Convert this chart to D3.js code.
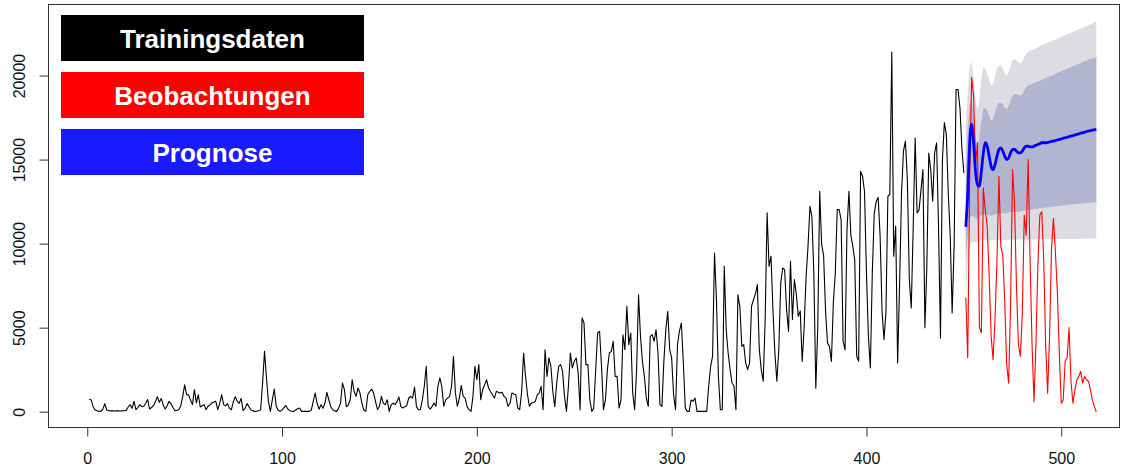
<!DOCTYPE html>
<html><head><meta charset="utf-8">
<script src="https://cdn.jsdelivr.net/npm/d3@7"></script>
<style>body{margin:0;background:#fff}svg{display:block;font-family:"Liberation Sans",Arial,sans-serif}</style>
</head><body><svg id="c" width="1121" height="467"></svg>
<script>
const trainStart = 1;
const fcStart = 451;
const training = [
750,700,300,100,50,30,20,150,480,100,
60,50,60,40,50,60,40,50,60,80,
280,420,200,620,120,250,420,300,320,500,
720,160,250,360,600,890,560,790,400,160,
350,620,480,250,60,80,120,360,900,1600,
1010,1000,700,420,1310,520,1010,280,350,420,
120,320,400,520,580,620,120,500,1010,420,
350,480,200,120,600,890,620,500,790,80,
200,480,300,120,50,20,30,60,120,1700,
3590,2000,600,20,700,1350,320,80,20,100,
250,360,150,60,30,20,100,180,220,20,
20,30,20,20,100,620,1110,500,150,420,
200,500,1150,710,300,120,50,20,200,500,
1710,1310,300,400,710,1900,1200,910,1410,1110,
500,100,20,1010,1200,1350,1100,600,120,320,
910,500,420,710,20,400,510,420,600,870,
300,220,300,360,800,910,810,1470,300,120,
120,700,1500,2700,320,150,300,510,320,1500,
2010,1510,320,700,810,910,1500,3290,1110,320,
800,1550,910,810,300,120,20,900,2700,1900,
2800,710,1310,1610,1900,1410,1200,1010,810,1210,
1150,1110,1150,900,810,320,500,1110,1050,1010,
220,120,1200,3490,2100,1010,320,510,550,610,
1000,1110,1510,120,3690,2100,3200,2700,1200,300,
1710,2700,2800,2400,910,20,1500,3490,2600,3000,
3200,2300,120,5580,5280,2800,2800,710,20,200,
2500,4680,4780,2700,120,700,2500,3490,3590,4190,
2100,2100,220,700,4580,3690,6270,3990,4680,1110,
120,2500,6960,4480,3000,2100,800,320,4480,4580,
4190,4880,3490,420,320,3000,4880,5970,3690,3200,
1000,120,3990,4800,5280,2900,220,20,20,700,
620,810,20,20,20,20,20,20,1500,2700,
3290,9440,6670,2100,120,120,8650,4880,3490,2500,
1710,1510,120,6960,6270,3890,3990,2900,2500,2900,
6270,6670,7000,7560,3690,2500,1810,5480,11830,8650,
9250,6070,3490,1810,3690,7660,8550,8450,6070,4780,
8950,5480,7860,7000,5670,6000,2990,5000,8000,9840,
12220,11600,8200,1400,5000,13110,9940,9300,6000,4080,
3900,2990,6500,8250,12020,12020,11400,4200,3680,10800,
13110,10500,9840,9000,3290,3000,14300,14000,13100,8250,
4480,2600,8250,11800,12500,12750,10500,6000,4290,5900,
12820,12920,21400,9250,11040,2900,7500,13000,15500,16100,
13800,7860,6170,11000,16290,11830,12000,13200,14400,5000,
8650,15390,14400,12520,15390,15990,11000,4380,15000,17200,
16500,13000,10500,5870,9840,19170,19170,18070,15690,14200
];
const observed = [
6800,3200,14000,19900,18800,14700,16000,5000,4700,13300,
12000,11000,8000,4500,3100,5500,9000,14000,9800,9300,
6500,2800,1700,6500,14400,12500,7500,4000,3300,5800,
11700,10500,15000,9000,4000,600,4000,8700,11700,11900,
9000,4000,1100,4500,9700,11500,9500,7100,3500,500,
700,3000,3200,5000,1800,500,1300,1900,2100,2400,
1700,2100,1900,1800,1300,700,300,0
];
const fcMean = [
11000,13000,16000,17100,16000,14300,13500,13400,14300,15400,
16000,15800,15200,14600,14400,14700,15200,15600,15700,15500,
15200,15000,15100,15400,15600,15600,15500,15400,15400,15500,
15700,15800,15800,15750,15750,15800,15850,15900,15950,16000,
16000,16000,16020,16050,16080,16100,16130,16170,16200,16230,
16270,16300,16330,16370,16400,16430,16470,16500,16530,16570,
16600,16630,16670,16700,16720,16750,16770,16790
];
const hi95 = [
17000,19000,20600,20800,19800,18500,17900,18600,19900,20500,
20400,20100,19700,19400,19500,20000,20400,20600,20600,20400,
20100,20000,20200,20600,20900,21000,20900,20800,20700,20800,
21100,21300,21400,21500,21500,21550,21600,21700,21750,21800,
21850,21900,21950,22000,22050,22100,22150,22200,22250,22300,
22350,22400,22450,22500,22550,22600,22650,22700,22750,22800,
22850,22900,22950,23000,23050,23100,23150,23250
];
const hi80 = [
14500,16800,18200,18600,17600,16300,15800,16300,17300,18000,
18100,17900,17600,17300,17400,17800,18200,18400,18400,18300,
18100,18000,18200,18500,18800,18900,18900,18850,18800,18900,
19100,19300,19400,19450,19500,19550,19600,19650,19700,19750,
19800,19850,19900,19950,20000,20050,20100,20150,20200,20250,
20300,20350,20400,20450,20500,20550,20600,20650,20700,20750,
20800,20850,20900,20950,21000,21000,21050,21100
];
const lo80 = [
9000,10500,11400,11700,11600,11500,11500,11600,11700,11750,
11750,11700,11700,11650,11700,11750,11800,11800,11800,11800,
11800,11800,11850,11900,11900,11900,11900,11900,11920,11950,
11970,12000,12000,12010,12030,12050,12060,12080,12100,12110,
12130,12140,12160,12170,12190,12200,12210,12230,12240,12260,
12270,12280,12300,12310,12320,12340,12350,12360,12370,12380,
12390,12400,12410,12420,12430,12440,12450,12450
];
const lo95 = [
7000,8800,9800,10100,10100,10100,10100,10150,10200,10200,
10200,10200,10200,10180,10200,10220,10230,10230,10230,10220,
10220,10220,10230,10240,10240,10240,10240,10240,10240,10240,
10250,10250,10250,10250,10250,10250,10250,10260,10260,10260,
10260,10260,10260,10260,10270,10270,10270,10270,10270,10270,
10280,10280,10280,10280,10280,10280,10280,10280,10280,10280,
10280,10290,10290,10290,10290,10300,10300,10300
];
const xTicks = [0,100,200,300,400,500];
const yTicks = [0,5000,10000,15000,20000];
const legendLabels = ["Trainingsdaten","Beobachtungen","Prognose"];
const legendColors = ["#000000","#ff0000","#1a1aff"];

const svg = d3.select("#c");
const box = {l:48.5, r:1119.5, t:4.5, b:427.5};
const x = d3.scaleLinear().domain([-20, 529.9]).range([48.3, 1119.5]);
const y = d3.scaleLinear().domain([-952, 24226]).range([427.7, 4.5]);

svg.append("defs").append("clipPath").attr("id","clip")
  .append("rect").attr("x",box.l).attr("y",box.t).attr("width",box.r-box.l).attr("height",box.b-box.t);
const g = svg.append("g").attr("clip-path","url(#clip)");

const fc = fcMean.map((m,i)=>({x:fcStart+i, m, lo80:lo80[i], hi80:hi80[i], lo95:lo95[i], hi95:hi95[i], obs:observed[i]}));
const tr = training.map((v,i)=>({x:trainStart+i, v}));

g.append("path").datum(fc).attr("fill","#dcdce2")
  .attr("d", d3.area().x(d=>x(d.x)).y0(d=>y(d.lo95)).y1(d=>y(d.hi95)));
g.append("path").datum(fc).attr("fill","#b1b5d0")
  .attr("d", d3.area().x(d=>x(d.x)).y0(d=>y(d.lo80)).y1(d=>y(d.hi80)));

g.append("path").datum(tr).attr("fill","none").attr("stroke","#000").attr("stroke-width",1.1)
  .attr("stroke-linejoin","round")
  .attr("d", d3.line().x(d=>x(d.x)).y(d=>y(d.v)));
g.append("path").datum(fc).attr("fill","none").attr("stroke","#ff0000").attr("stroke-width",1.1)
  .attr("stroke-linejoin","round")
  .attr("d", d3.line().x(d=>x(d.x)).y(d=>y(d.obs)));
g.append("path").datum(fc).attr("fill","none").attr("stroke","#0000ff").attr("stroke-width",2.8)
  .attr("stroke-linejoin","round")
  .attr("d", d3.line().curve(d3.curveMonotoneX).x(d=>x(d.x)).y(d=>y(d.m)));

// box
svg.append("rect").attr("x",box.l).attr("y",box.t).attr("width",box.r-box.l).attr("height",box.b-box.t)
  .attr("fill","none").attr("stroke","#333").attr("stroke-width",1);

// x axis
const xa = svg.append("g").attr("transform",`translate(0,${box.b})`)
  .call(d3.axisBottom(x).tickValues(xTicks).tickSize(9).tickPadding(16).tickFormat(d3.format("d")));
xa.select(".domain").remove();
xa.selectAll("line").attr("stroke","#333");
xa.selectAll("text").attr("font-size",16).attr("fill","#111").attr("font-family","'Liberation Sans',Arial,sans-serif");

// y axis
const ya = svg.append("g").attr("transform",`translate(${box.l},0)`)
  .call(d3.axisLeft(y).tickValues(yTicks).tickSize(9).tickFormat(d3.format("d")));
ya.select(".domain").remove();
ya.selectAll("line").attr("stroke","#333");
ya.selectAll("text").attr("font-size",16).attr("fill","#111").attr("font-family","'Liberation Sans',Arial,sans-serif")
  .attr("transform","rotate(-90)").attr("x",0).attr("y",-23.5).attr("dy",null).attr("text-anchor","middle");

// legend
const legTop = [15,72,129];
const lg = svg.append("g");
legendLabels.forEach((lab,i)=>{
  lg.append("rect").attr("x",61).attr("y",legTop[i]).attr("width",303).attr("height",46).attr("fill",legendColors[i]);
  lg.append("text").attr("x",212.5).attr("y",legTop[i]+32.5).attr("text-anchor","middle")
    .attr("fill","#fff").attr("font-weight","bold").attr("font-size",26).text(lab);
});
</script></body></html>
